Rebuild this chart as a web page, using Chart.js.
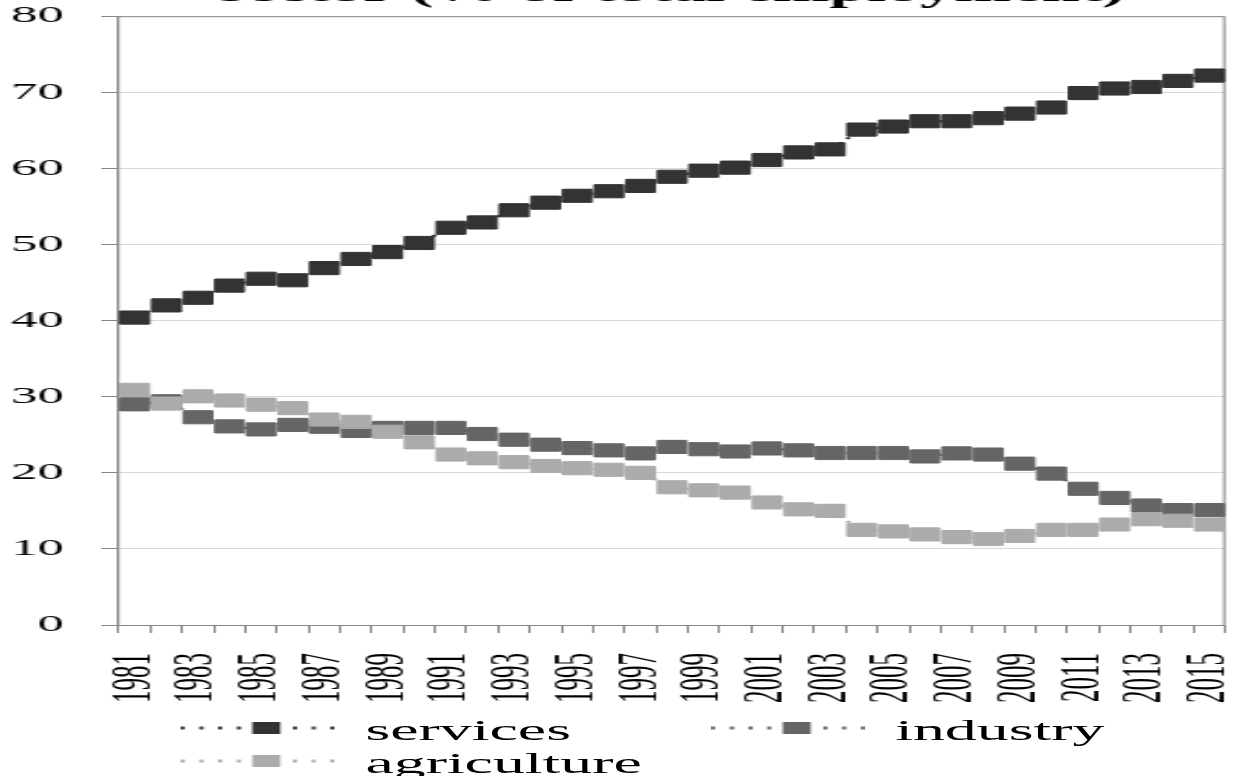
<!DOCTYPE html>
<html>
<head>
<meta charset="utf-8">
<script src="https://cdn.jsdelivr.net/npm/chart.js"></script>
<style>
  body { margin: 0; background: #fff; overflow: hidden; }
  /* the picture is a narrow chart stretched sideways, so draw narrow and stretch */
  #stretch { position: absolute; left: 0; top: 0; width: 562px; height: 776px; transform: scaleX(2.2011); transform-origin: 0 0; overflow: hidden; }
  #plot { position: absolute; left: 0; top: -26px; width: 567px; height: 731px; }
  .legend-item { position: absolute; height: 33px; line-height: 33px; font-family: "Liberation Serif", serif; font-size: 29px; color: #000; white-space: nowrap; }
  .legend-item canvas { vertical-align: top; margin-right: 14px; }
</style>
</head>
<body>
<div id="stretch">
  <div id="plot"><canvas id="employment-chart"></canvas></div>
  <div id="legend"></div>
</div>
<script>
const years = ["1981", "1982", "1983", "1984", "1985", "1986", "1987", "1988", "1989", "1990",
  "1991", "1992", "1993", "1994", "1995", "1996", "1997", "1998", "1999", "2000",
  "2001", "2002", "2003", "2004", "2005", "2006", "2007", "2008", "2009", "2010",
  "2011", "2012", "2013", "2014", "2015"];

const services = [40.4, 42.0, 43.0, 44.6, 45.5, 45.3, 46.9, 48.1, 49.0, 50.2,
  52.2, 52.9, 54.5, 55.5, 56.4, 57.0, 57.7, 58.9, 59.7, 60.1,
  61.1, 62.1, 62.5, 65.1, 65.5, 66.2, 66.2, 66.6, 67.2, 68.0,
  69.9, 70.5, 70.7, 71.5, 72.2];

const industry = [29.0, 29.4, 27.3, 26.1, 25.7, 26.3, 26.05, 25.5, 25.9, 25.9,
  25.9, 25.1, 24.35, 23.7, 23.25, 22.95, 22.55, 23.4, 23.1, 22.8,
  23.2, 22.95, 22.6, 22.6, 22.6, 22.15, 22.55, 22.4, 21.2, 19.9,
  17.9, 16.7, 15.7, 15.1, 15.1];

const agriculture = [30.9, 29.1, 30.05, 29.5, 28.95, 28.5, 27.0, 26.7, 25.4, 24.0,
  22.4, 21.9, 21.4, 20.9, 20.6, 20.4, 20.0, 18.1, 17.7, 17.4,
  16.1, 15.2, 15.0, 12.5, 12.3, 11.9, 11.55, 11.3, 11.7, 12.5,
  12.5, 13.2, 13.9, 13.7, 13.2];

const seriesNames = ["services", "industry", "agriculture"];
const seriesColors = ["#333333", "#656565", "#ababab"];
const titleText = "sector (% of total employment)";

const axisGray = "#868686";
const serif = "Liberation Serif";

function makeDataset(i, values, order) {
  return {
    label: seriesNames[i],
    data: values,
    order: order,
    borderColor: seriesColors[i],
    backgroundColor: seriesColors[i],
    borderWidth: 2,
    borderDash: [2, 4],
    pointStyle: "rect",
    pointRadius: 9.3,
    pointHoverRadius: 9.3,
    pointBorderWidth: 1,
    pointBorderColor: seriesColors[i],
    pointBackgroundColor: seriesColors[i],
    tension: 0
  };
}

// grey frame on top and right of the plot area
const plotFrame = {
  id: "plotFrame",
  beforeDatasetsDraw(chart) {
    const ctx = chart.ctx, a = chart.chartArea;
    ctx.save();
    ctx.strokeStyle = axisGray;
    ctx.lineWidth = 1;
    ctx.beginPath();
    ctx.moveTo(a.left, a.top + 0.5);
    ctx.lineTo(a.right - 0.5, a.top + 0.5);
    ctx.lineTo(a.right - 0.5, a.bottom);
    ctx.stroke();
    ctx.restore();
  }
};

const chart = new Chart(document.getElementById("employment-chart"), {
  type: "line",
  data: {
    labels: years,
    datasets: [
      makeDataset(0, services, 0),
      makeDataset(1, industry, 2),
      makeDataset(2, agriculture, 1)
    ]
  },
  options: {
    responsive: true,
    maintainAspectRatio: false,
    animation: false,
    layout: { padding: { left: 0, right: 0, top: 0, bottom: 0 } },
    scales: {
      x: {
        type: "category",
        offset: true,
        afterFit: (s) => {
          s.height = 80;
          s.paddingLeft = 0;
          s.paddingRight = 0;
        },
        grid: { offset: true, drawOnChartArea: false, tickLength: 8, color: axisGray },
        border: { color: axisGray, width: 1 },
        ticks: {
          autoSkip: false,
          minRotation: 90,
          maxRotation: 90,
          padding: 20,
          color: "#000",
          font: { family: serif, size: 25 },
          callback: function (value, index) {
            return index % 2 === 0 ? this.getLabelForValue(value) : "";
          }
        }
      },
      y: {
        min: 0,
        max: 80,
        afterFit: (s) => { s.width = 54; },
        grid: { color: "#d9d9d9", tickColor: axisGray, tickLength: 8 },
        border: { color: axisGray, width: 1.2 },
        ticks: {
          stepSize: 10,
          padding: 17,
          color: "#000",
          font: { family: serif, size: 24 }
        }
      }
    },
    plugins: {
      legend: { display: false },
      tooltip: { enabled: false },
      title: {
        display: true,
        text: titleText,
        fullSize: false,
        color: "#000",
        font: { family: serif, size: 31, weight: "bold" },
        padding: { top: 0, bottom: 5 }
      }
    }
  },
  plugins: [plotFrame]
});

// legend: dotted line with a square marker, then the name
const legendSpots = [[82, 713.5], [322.7, 713.5], [82, 746.5]];
const legendBox = document.getElementById("legend");
seriesNames.forEach((name, i) => {
  const item = document.createElement("div");
  item.className = "legend-item";
  item.style.left = legendSpots[i][0] + "px";
  item.style.top = legendSpots[i][1] + "px";
  const icon = document.createElement("canvas");
  icon.width = 70;
  icon.height = 33;
  const c = icon.getContext("2d");
  c.fillStyle = seriesColors[i];
  [1, 9.5, 18, 26.5, 52, 60.5, 69].forEach((x) => c.fillRect(x - 0.9, 12.5, 1.8, 3));
  c.fillRect(32.6, 8, 12.7, 12);
  item.appendChild(icon);
  item.appendChild(document.createTextNode(name));
  legendBox.appendChild(item);
});
</script>
</body>
</html>
